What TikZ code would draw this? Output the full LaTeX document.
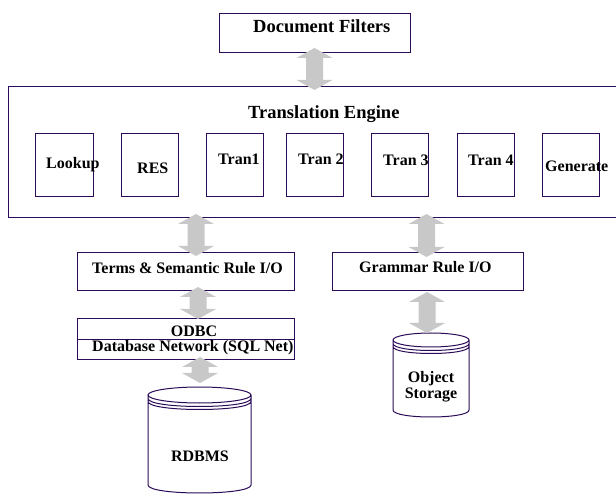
\documentclass[tikz,border=0pt]{standalone}
\usepackage{fontspec}
\setmainfont{Liberation Serif}
\usetikzlibrary{calc}
\definecolor{ln}{RGB}{43,11,87}
\definecolor{ag}{RGB}{200,200,200}
% fat grey double arrow between two points (first one above)
\newcommand\dblarrow[2]{\fill[ag] let \p1=(#1), \p2=(#2) in
  (\x1,\y1) -- (\x1+18pt,\y1-10pt) -- (\x1+8.5pt,\y1-10pt) -- (\x1+8.5pt,\y2+10pt)
  -- (\x1+18pt,\y2+10pt) -- (\x1,\y2) -- (\x1-18pt,\y2+10pt) -- (\x1-8.5pt,\y2+10pt)
  -- (\x1-8.5pt,\y1-10pt) -- (\x1-18pt,\y1-10pt) -- cycle;}
% database cylinder drawn on an invisible node #1, ellipse half-height #2
\newcommand\dbcyl[2]{\draw[ln, line width=1pt] let \p1=(#1.north west), \p2=(#1.south east) in
  ({(\x1+\x2)/2},\y1-#2pt) ellipse [x radius={(\x2-\x1)/2}, y radius=#2pt]
  (\x1,\y1-#2pt) -- (\x1,\y2+#2pt) .. controls (\x1,\y2+#2pt-1.333*#2pt) and (\x2,\y2+#2pt-1.333*#2pt) .. (\x2,\y2+#2pt) -- (\x2,\y1-#2pt)
  (\x1,\y1-#2pt-3.5pt) .. controls (\x1,\y1-#2pt-3.5pt-1.333*#2pt) and (\x2,\y1-#2pt-3.5pt-1.333*#2pt) .. (\x2,\y1-#2pt-3.5pt)
  (\x1,\y1-#2pt-6.5pt) .. controls (\x1,\y1-#2pt-6.5pt-1.333*#2pt) and (\x2,\y1-#2pt-6.5pt-1.333*#2pt) .. (\x2,\y1-#2pt-6.5pt);}
\begin{document}
\begin{tikzpicture}[x=1pt,y=-1pt,
  box/.style={draw=ln, line width=1pt, inner sep=0pt, outer sep=0pt},
  ghost/.style={inner sep=0pt, outer sep=0pt},
  lbl/.style={font=\bfseries\fontsize{16}{18}\selectfont, inner sep=0pt, anchor=base west},
  lblc/.style={font=\bfseries\fontsize{16}{18}\selectfont, inner sep=0pt, anchor=base},
  ttl/.style={font=\bfseries\fontsize{18.5}{21}\selectfont, inner sep=0pt, anchor=base west}]
\useasboundingbox (0,0) rectangle (616,494);
\begin{scope}
\clip (0,0) rectangle (616,494);
% boxes
\node[box, minimum width=191pt, minimum height=39pt] (docf) at (314.5,33.5) {};
\node[box, minimum width=617pt, minimum height=131pt] (trans) at (316.5,152.5) {};
\node[box, minimum width=58pt, minimum height=63pt] (lookup) at (64,165.5) {};
\node[box, minimum width=57pt, minimum height=63pt] (res) at (149.5,165.5) {};
\node[box, minimum width=57pt, minimum height=63pt] (tran1) at (234.5,165.5) {};
\node[box, minimum width=57pt, minimum height=63pt] (tran2) at (314.5,165.5) {};
\node[box, minimum width=57pt, minimum height=63pt] (tran3) at (399.5,165.5) {};
\node[box, minimum width=57pt, minimum height=63pt] (tran4) at (485.5,165.5) {};
\node[box, minimum width=57pt, minimum height=63pt] (gen) at (570.5,165.5) {};
\node[box, minimum width=217pt, minimum height=38pt] (terms) at (185.5,272) {};
\node[box, minimum width=191pt, minimum height=38pt] (gram) at (427.5,272) {};
\node[box, minimum width=217pt, minimum height=41pt] (odbc) at (185.5,339.5) {};
\draw[ln, line width=1pt] (odbc.west) -- (odbc.east);
\node[ghost, minimum width=76pt, minimum height=84pt] (obj) at (431,375) {};
\node[ghost, minimum width=103pt, minimum height=106pt] (rdbms) at (199.5,440) {};
\dbcyl{obj}{7}
\dbcyl{rdbms}{8}
% labels
\node[ttl] (tdocf) at (253,33) {Document Filters};
\node[ttl] (ttrans) at (248,119) {Translation Engine};
\node[lbl] (tlookup) at (46,169) {Lookup};
\node[lbl] (tres) at (137,174) {RES};
\node[lbl] (ttran1) at (218,165) {Tran1};
\node[lbl] (ttran2) at (298,165) {Tran 2};
\node[lbl] (ttran3) at (383,166) {Tran 3};
\node[lbl] (ttran4) at (468,166) {Tran 4};
\node[lbl] (tgen) at (545,172) {Generate};
\node[lbl] (tterms) at (92,274) {Terms \& Semantic Rule I/O};
\node[lbl] (tgram) at (359,273) {Grammar Rule I/O};
\node[lblc] (todbc) at (194,337) {ODBC};
\node[lbl] (tdbnet) at (92,352) {Database Network (SQL Net)};
\node[lblc] (tobj1) at (431,382) {Object};
\node[lblc] (tobj2) at (431,399) {Storage};
\node[lblc] (trdbms) at (200,461) {RDBMS};
% arrows
\dblarrow{$(docf.south)+(0,-5)$}{$(docf.south |- trans.north)+(0,3)$}
\dblarrow{$(terms.north |- trans.south)+(10.5,-4)$}{$(terms.north)+(10.5,3)$}
\dblarrow{$(terms.south)+(12.5,-4)$}{$(terms.south |- odbc.north)+(12.5,0)$}
\dblarrow{$(rdbms.north |- odbc.south)+(0.5,-3)$}{$(rdbms.north)+(0.5,-4)$}
\dblarrow{$(gram.north |- trans.south)+(-1,-4)$}{$(gram.north)+(-1,4)$}
\dblarrow{$(obj.north |- gram.south)+(-4,1)$}{$(obj.north)+(-4,0)$}
\end{scope}
\end{tikzpicture}
\end{document}
